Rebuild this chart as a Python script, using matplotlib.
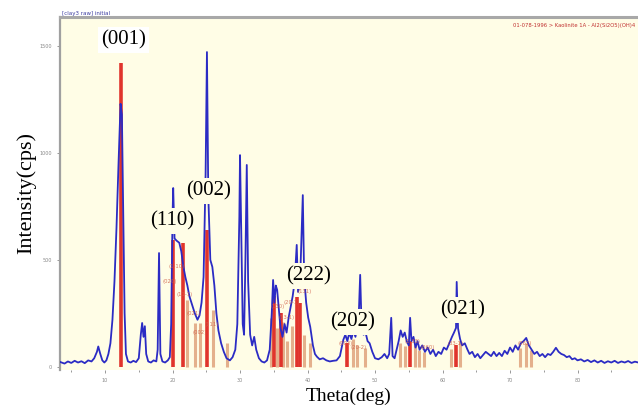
import numpy as np
import matplotlib
matplotlib.use('Agg')
import matplotlib.pyplot as plt

theta = [3.4, 4.0, 4.5, 5.0, 5.5, 6.0, 6.5, 7.0, 7.5, 8.0, 8.4, 8.8, 9.0, 9.3, 9.6, 9.9,
         10.2, 10.5, 10.8, 11.1, 11.4, 11.7, 12.0, 12.3, 12.5, 12.7, 12.9, 13.1, 13.4, 13.8,
         14.2, 14.6, 15.0, 15.3, 15.5, 15.7, 15.9, 16.1, 16.4, 16.8, 17.2, 17.6, 17.8, 18.0,
         18.2, 18.5, 18.9, 19.3, 19.6, 19.8, 20.0, 20.1, 20.3, 20.6, 21.0, 21.3, 21.6, 21.9,
         22.2, 22.5, 22.9, 23.3, 23.7, 24.0, 24.3, 24.6, 24.9, 25.1, 25.3, 25.6, 25.9, 26.2,
         26.5, 26.8, 27.2, 27.6, 28.0, 28.5, 28.9, 29.3, 29.6, 29.9, 30.0, 30.2, 30.4, 30.6,
         30.8, 31.0, 31.2, 31.5, 31.8, 32.1, 32.4, 32.8, 33.2, 33.6, 34.0, 34.4, 34.7, 34.9,
         35.1, 35.3, 35.5, 35.8, 36.0, 36.3, 36.6, 36.9, 37.2, 37.5, 37.8, 38.1, 38.4, 38.6,
         38.9, 39.1, 39.3, 39.5, 39.8, 40.1, 40.4, 40.8, 41.1, 41.4, 41.8, 42.3, 42.8, 43.3,
         43.8, 44.3, 44.8, 45.3, 45.6, 45.9, 46.2, 46.5, 46.8, 47.1, 47.4, 47.6, 47.8, 48.0,
         48.3, 48.6, 48.9, 49.2, 49.6, 50.0, 50.5, 51.0, 51.4, 51.8, 52.1, 52.4, 52.6, 52.9,
         53.2, 53.5, 53.8, 54.1, 54.4, 54.7, 55.0, 55.2, 55.4, 55.7, 56.0, 56.3, 56.6, 57.0,
         57.4, 57.8, 58.2, 58.6, 59.0, 59.4, 59.8, 60.2, 60.6, 61.0, 61.4, 61.7, 62.0, 62.1,
         62.3, 62.6, 62.9, 63.3, 63.7, 64.0, 64.4, 64.8, 65.2, 65.6, 66.0, 66.4, 66.8, 67.2,
         67.6, 68.0, 68.4, 68.8, 69.2, 69.6, 70.0, 70.4, 70.8, 71.2, 71.6, 72.0, 72.4, 72.8,
         73.2, 73.6, 74.0, 74.4, 74.8, 75.2, 75.6, 76.0, 76.4, 76.8, 77.2, 77.6, 78.0, 78.4,
         78.8, 79.2, 79.6, 80.0, 80.5, 81.0, 81.5, 82.0, 82.5, 83.0, 83.5, 84.0, 84.5, 85.0,
         85.5, 86.0, 86.5, 87.0, 87.5, 88.0, 88.5, 89.0]
counts = [22, 15, 25, 18, 28, 20, 26, 17, 30, 25, 40, 70, 95, 60, 30, 20,
          30, 60, 110, 220, 400, 650, 950, 1230, 1180, 700, 250, 60, 25, 20,
          28, 22, 40, 150, 205, 140, 190, 60, 25, 20, 30, 25, 80, 532,
          60, 25, 20, 30, 45, 200, 700, 836, 600, 590, 580, 540, 470, 420,
          380, 330, 290, 250, 220, 240, 300, 420, 900, 1472, 800, 500, 467, 380,
          250, 170, 110, 70, 40, 30, 45, 80, 200, 700, 990, 600, 200, 150,
          500, 944, 400, 150, 100, 140, 80, 40, 25, 20, 30, 80, 250, 406,
          300, 380, 360, 250, 180, 140, 200, 160, 230, 280, 330, 400, 570, 350,
          400, 600, 803, 420, 300, 230, 187, 100, 60, 47, 35, 40, 30, 25,
          28, 30, 50, 126, 150, 120, 160, 130, 170, 140, 200, 250, 430, 200,
          150, 160, 120, 110, 70, 40, 35, 45, 60, 40, 60, 229, 50, 40,
          80, 120, 170, 140, 160, 120, 100, 229, 120, 140, 90, 120, 80, 100,
          70, 90, 60, 80, 50, 70, 60, 90, 80, 110, 140, 160, 182, 397,
          180, 130, 100, 110, 80, 60, 70, 45, 60, 40, 55, 70, 60, 50,
          70, 50, 65, 50, 75, 60, 90, 70, 100, 80, 110, 120, 135, 100,
          80, 60, 70, 50, 60, 45, 60, 55, 70, 89, 70, 60, 55, 45,
          50, 35, 40, 30, 35, 25, 32, 22, 30, 20, 28, 18, 26, 20,
          28, 18, 25, 20, 27, 18, 24, 20]

# reference stick pattern (kaolinite card)
ref_main_pos = [12.4, 20.1, 21.5, 25.1, 35.0, 36.0, 38.5, 38.9, 45.8, 55.2, 62.0]
ref_main_int = [1420, 593, 580, 640, 330, 250, 327, 300, 110, 120, 100]
ref_minor_pos = [22.1, 23.3, 24.1, 26.0, 28.0, 34.6, 35.5, 36.4, 37.0, 37.7, 39.5, 40.3,
                 46.8, 47.4, 48.5, 53.7, 54.4, 55.9, 56.5, 57.3, 61.2, 62.6, 71.5, 72.4, 73.1]
ref_minor_int = [313, 205, 205, 266, 112, 230, 180, 210, 120, 190, 150, 110,
                 130, 100, 90, 110, 95, 100, 80, 70, 85, 120, 90, 110, 80]
ref_hkl = ['(020)', '(1-10)', '(11-1)', '(021)', '(111)', '(002)', '(130)', '(13-1)',
           '(20-1)', '(131)', '(003)', '(20-2)', '(1-33)', '(060)', '(33-1)', '(062)']
ref_hkl_pos = [19.6, 20.6, 21.8, 23.2, 25.8, 24.0, 35.6, 36.9,
               37.6, 39.6, 45.6, 47.6, 55.5, 57.8, 61.9, 72.2]
ref_hkl_int = [400, 470, 340, 250, 200, 160, 280, 230,
               300, 350, 110, 90, 120, 90, 110, 110]

# main reflections marked in the figure
peak_names = ['(001)', '(110)', '(002)', '(222)', '(202)', '(021)']
peak_pos = [12.7, 19.9, 25.4, 40.1, 46.6, 63.0]
peak_lbl_int = [1528, 682, 822, 425, 210, 266]

bg = '#fffde6'
fig = plt.figure(figsize=(6.38, 4.09), dpi=100)
ax = fig.add_axes([60/638, 39/409, 578/638, 353/409])
ax.set_facecolor(bg)

ax.vlines(ref_minor_pos, 0, ref_minor_int, color='#e4b08c', lw=2.2, zorder=2)
ax.vlines(ref_main_pos, 0, ref_main_int, color='#e0342c', lw=2.6, zorder=2)
ax.plot(theta, counts, color='#2b2bc4', lw=1.3, zorder=3)

for name, x, y in zip(ref_hkl, ref_hkl_pos, ref_hkl_int):
    ax.text(x, y, name, fontsize=3.8, color='#d0604a', ha='center', va='center',
            zorder=4, alpha=0.85)

for name, x, y in zip(peak_names, peak_pos, peak_lbl_int):
    fc = 'white' if name == '(001)' else bg
    ax.text(x, y, name, fontsize=15, family='Liberation Serif', ha='center', va='center',
            zorder=5, bbox=dict(boxstyle='square,pad=0.15', fc=fc, ec='none'))

ax.set_xlim(3.33, 88.96)
ax.set_ylim(-15, 1636)
ax.set_xticks([10, 20, 30, 40, 50, 60, 70, 80])
ax.set_xticks(np.arange(5, 90, 5), minor=True)
ax.set_yticks([0, 500, 1000, 1500])
ax.tick_params(axis='both', which='both', labelsize=3.5, colors='#888888', length=2.5, width=0.6)
ax.tick_params(axis='x', which='minor', length=1.5)
for s in ['right', 'bottom']:
    ax.spines[s].set_visible(False)
ax.spines['top'].set_color('#a8a8a8')
ax.spines['top'].set_linewidth(2.2)
ax.spines['left'].set_color('#a0a0a0')
ax.spines['left'].set_linewidth(1.6)

ax.set_ylabel('Intensity(cps)', fontsize=16, family='Liberation Serif', labelpad=2)
ax.set_xlabel('Theta(deg)', fontsize=14, family='Liberation Serif', labelpad=3)

fig.text(62/638, 1 - 13/409, '[clay3 raw] initial', fontsize=4, color='#3b3ba0', va='center')
fig.text(0.995, 1 - 25/409, '01-078-1996 > Kaolinite 1A - Al2(Si2O5)(OH)4', fontsize=3.8,
         color='#c03030', ha='right', va='center')

fig.savefig('out.png', dpi=100)
